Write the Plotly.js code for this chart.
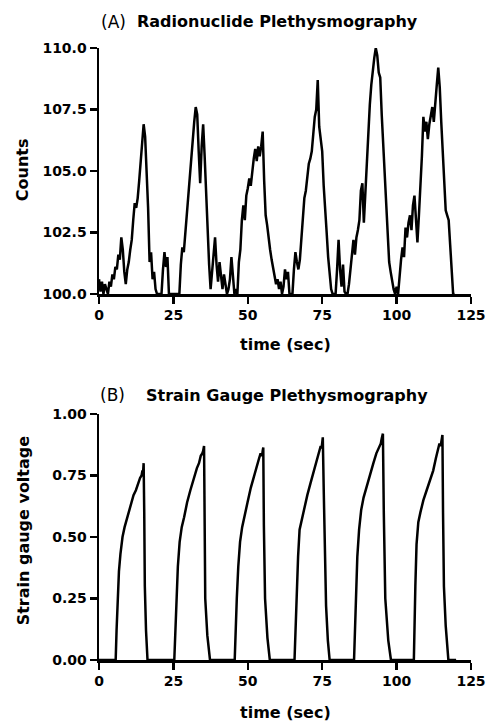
<!DOCTYPE html>
<html>
<head>
<meta charset="utf-8">
<script src="https://cdn.plot.ly/plotly-3.0.1.min.js"></script>
<style>
  html, body { margin: 0; padding: 0; background: #ffffff; }
  #chart { width: 491px; height: 728px; }
</style>
</head>
<body>
<div id="chart"></div>
<script>
// ---------- Data ----------
// Panel A: radionuclide counts, sampled every 0.5 s starting at 0 s
const countsStart = 0;
const countsStep = 0.5;
const radionuclideCounts = [
  100.6, 100.1, 100.5, 100.0, 100.4, 100.2, 100.0, 100.5, 100.3, 100.8,
  100.6, 101.1, 101.0, 101.6, 101.4, 102.3, 101.8, 100.9, 100.4, 101.0,
  101.3, 101.8, 102.2, 103.0, 103.7, 103.5, 103.9, 104.6, 105.3, 106.0,
  106.9, 106.4, 105.0, 103.5, 101.3, 101.7, 100.6, 100.9, 100.2, 100.0,
  100.0, 100.0, 100.0, 101.0, 101.7, 101.1, 101.5, 100.0, 100.0, 100.0,
  100.0, 100.0, 100.0, 100.0, 100.0, 101.2, 101.9, 101.7, 102.5, 103.0,
  103.8, 104.6, 105.5, 106.3, 107.0, 107.6, 107.3, 105.8, 104.5, 106.0,
  106.9, 105.6, 104.0, 102.5, 101.2, 100.2, 100.9, 101.5, 102.3, 101.2,
  100.5, 101.3, 100.6, 100.2, 100.8, 100.3, 100.0, 100.2, 100.6, 101.5,
  100.5, 100.0, 100.2, 100.0, 101.3, 101.8, 103.0, 103.6, 103.0, 104.0,
  104.3, 104.7, 104.4, 105.1, 105.5, 105.9, 105.4, 106.0, 105.6, 106.0,
  106.6, 104.6, 103.2, 102.8, 102.2, 101.8, 101.4, 101.0, 100.8, 100.4,
  100.6, 100.2, 100.5, 100.0, 100.3, 101.0, 100.6, 100.9, 100.0, 100.0,
  100.0, 101.0, 101.7, 101.3, 101.0, 101.4, 102.4, 103.4, 103.9, 104.2,
  104.8, 105.3, 105.5, 105.8, 106.5, 107.2, 107.5, 108.7, 106.8, 106.3,
  105.8, 104.4, 103.2, 102.5, 101.5, 100.7, 100.2, 100.0, 100.0, 100.0,
  101.0, 102.2, 101.0, 100.3, 101.2, 100.1, 100.0, 100.0, 100.4, 101.0,
  101.3, 102.2, 101.6, 102.3, 102.6, 103.0, 104.2, 104.5, 102.9, 104.2,
  105.5, 107.0, 107.7, 108.5, 109.2, 109.6, 110.0, 109.7, 109.0, 108.8,
  107.3, 106.0, 104.7, 103.3, 102.2, 101.3, 100.9, 100.5, 100.2, 100.0,
  100.3, 100.0, 100.8, 101.4, 101.9, 101.5, 102.7, 102.3, 102.9, 103.2,
  102.6, 103.6, 104.0, 103.0, 102.1, 103.2, 104.3, 105.6, 107.2, 106.6,
  107.0, 106.3, 106.9, 107.3, 107.6, 107.0, 107.9, 108.5, 109.2, 108.4,
  107.0, 105.8, 104.0, 103.4, 103.2, 103.0, 102.0, 100.8, 100.0, 100.0
];

// Panel B: strain gauge voltage
const gaugeTime = [
  0, 5.6, 5.9, 6.2, 6.7, 7.2, 7.9, 8.6, 9.3, 10.0, 10.8, 11.6, 12.4, 13.1, 13.8, 14.3, 14.6, 14.8, 15.0, 15.2, 15.4, 15.8, 16.3,
  25.3, 25.6, 26.0, 26.5, 27.1, 27.8, 28.6, 29.6, 30.7, 31.8, 32.9, 33.6, 34.2, 34.7, 35.0, 35.3, 35.5, 35.7, 36.4, 37.3,
  45.6, 45.9, 46.3, 46.8, 47.4, 48.1, 48.9, 49.9, 51.0, 52.1, 53.1, 53.8, 54.3, 54.8, 55.0, 55.2, 55.4, 55.8, 56.6, 57.4,
  65.7, 66.0, 66.4, 66.9, 67.4, 68.1, 68.9, 70.0, 71.1, 72.2, 73.2, 74.0, 74.5, 74.8, 75.0, 75.2, 75.5, 75.9, 76.3, 76.9, 77.5,
  85.7, 86.0, 86.3, 86.8, 87.4, 88.1, 88.9, 90.0, 91.1, 92.2, 93.2, 94.2, 94.7, 95.0, 95.4, 95.7, 96.2, 97.2, 98.1,
  105.8, 106.0, 106.3, 106.7, 107.3, 108.0, 109.0, 110.1, 111.2, 112.3, 113.2, 113.9, 114.4, 114.8, 115.1, 115.4, 115.6, 115.9, 116.5, 117.4,
  120
];
const gaugeVoltage = [
  0, 0, 0.12, 0.25, 0.36, 0.43, 0.50, 0.54, 0.57, 0.61, 0.64, 0.67, 0.69, 0.72, 0.74, 0.75, 0.77, 0.76, 0.80, 0.60, 0.30, 0.12, 0,
  0, 0.12, 0.25, 0.38, 0.48, 0.54, 0.58, 0.64, 0.69, 0.74, 0.78, 0.80, 0.83, 0.84, 0.85, 0.87, 0.50, 0.25, 0.10, 0,
  0, 0.12, 0.25, 0.38, 0.48, 0.54, 0.58, 0.64, 0.70, 0.75, 0.80, 0.82, 0.84, 0.83, 0.85, 0.864, 0.55, 0.25, 0.09, 0,
  0, 0.12, 0.25, 0.42, 0.53, 0.57, 0.61, 0.67, 0.72, 0.77, 0.82, 0.85, 0.87, 0.86, 0.88, 0.905, 0.70, 0.40, 0.22, 0.08, 0,
  0, 0.12, 0.25, 0.42, 0.53, 0.61, 0.66, 0.71, 0.75, 0.80, 0.84, 0.87, 0.88, 0.90, 0.92, 0.60, 0.25, 0.08, 0,
  0, 0.15, 0.30, 0.47, 0.56, 0.60, 0.65, 0.69, 0.73, 0.77, 0.82, 0.86, 0.88, 0.87, 0.89, 0.915, 0.60, 0.30, 0.14, 0,
  0
];

// Tick labels
const timeTicks = [0, 25, 50, 75, 100, 125];
const countsTicks = [100.0, 102.5, 105.0, 107.5, 110.0];
const voltageTicks = [0.00, 0.25, 0.50, 0.75, 1.00];

// ---------- Styles ----------
const FONT = 'DejaVu Sans';
const tickFont = { family: FONT, size: 14, color: '#000', weight: 'bold' };
const lineStyle = { color: '#000', width: 2.5 };

function axisStyle(extra) {
  return Object.assign({
    showline: true, linecolor: '#000', linewidth: 2.5,
    ticks: 'outside', ticklen: 7, tickwidth: 2.5, tickcolor: '#000',
    showgrid: false, zeroline: false, tickfont: tickFont, fixedrange: true
  }, extra);
}

const traces = [
  {
    type: 'scatter', mode: 'lines', x0: countsStart, dx: countsStep,
    y: radionuclideCounts, xaxis: 'x', yaxis: 'y', line: lineStyle, hoverinfo: 'skip'
  },
  {
    type: 'scatter', mode: 'lines', x: gaugeTime, y: gaugeVoltage,
    xaxis: 'x2', yaxis: 'y2', line: lineStyle, hoverinfo: 'skip'
  }
];

const layout = {
  width: 491, height: 728,
  margin: { l: 99, r: 20, t: 48, b: 68 },
  paper_bgcolor: '#fff', plot_bgcolor: '#fff',
  showlegend: false,
  xaxis: axisStyle({ domain: [0, 1], anchor: 'y', range: [0, 125], tickvals: timeTicks }),
  yaxis: axisStyle({ domain: [0.598, 1], anchor: 'x', range: [100, 110], tickvals: countsTicks, tickformat: '.1f' }),
  xaxis2: axisStyle({ domain: [0, 1], anchor: 'y2', range: [0, 125], tickvals: timeTicks }),
  yaxis2: axisStyle({ domain: [0, 0.402], anchor: 'x2', range: [0, 1], tickvals: voltageTicks, tickformat: '.2f' }),
  annotations: [
    { text: '(A)', xref: 'paper', yref: 'paper', x: 0, y: 1.0425, xanchor: 'left', yanchor: 'middle',
      showarrow: false, font: { family: FONT, size: 17, color: '#000' } },
    { text: '<b>Radionuclide Plethysmography</b>', xref: 'paper', yref: 'paper', x: 0.097, y: 1.0425,
      xanchor: 'left', yanchor: 'middle', showarrow: false, font: { family: FONT, size: 16, color: '#000' } },
    { text: '(B)', xref: 'paper', yref: 'paper', x: -0.003, y: 0.433, xanchor: 'left', yanchor: 'middle',
      showarrow: false, font: { family: FONT, size: 17, color: '#000' } },
    { text: '<b>Strain Gauge Plethysmography</b>', xref: 'paper', yref: 'paper', x: 0.121, y: 0.433,
      xanchor: 'left', yanchor: 'middle', showarrow: false, font: { family: FONT, size: 16, color: '#000' } },
    { text: '<b>Counts</b>', xref: 'paper', yref: 'paper', x: -0.207, y: 0.802, textangle: -90,
      xanchor: 'center', yanchor: 'middle', showarrow: false, font: { family: FONT, size: 16, color: '#000' } },
    { text: '<b>Strain gauge voltage</b>', xref: 'paper', yref: 'paper', x: -0.204, y: 0.212, textangle: -90,
      xanchor: 'center', yanchor: 'middle', showarrow: false, font: { family: FONT, size: 16, color: '#000' } },
    { text: '<b>time (sec)</b>', xref: 'paper', yref: 'paper', x: 0.5, y: 0.515,
      xanchor: 'center', yanchor: 'middle', showarrow: false, font: { family: FONT, size: 16, color: '#000' } },
    { text: '<b>time (sec)</b>', xref: 'paper', yref: 'paper', x: 0.5, y: -0.085,
      xanchor: 'center', yanchor: 'middle', showarrow: false, font: { family: FONT, size: 16, color: '#000' } }
  ]
};

Plotly.newPlot('chart', traces, layout, { displayModeBar: false, staticPlot: true });
</script>
</body>
</html>
